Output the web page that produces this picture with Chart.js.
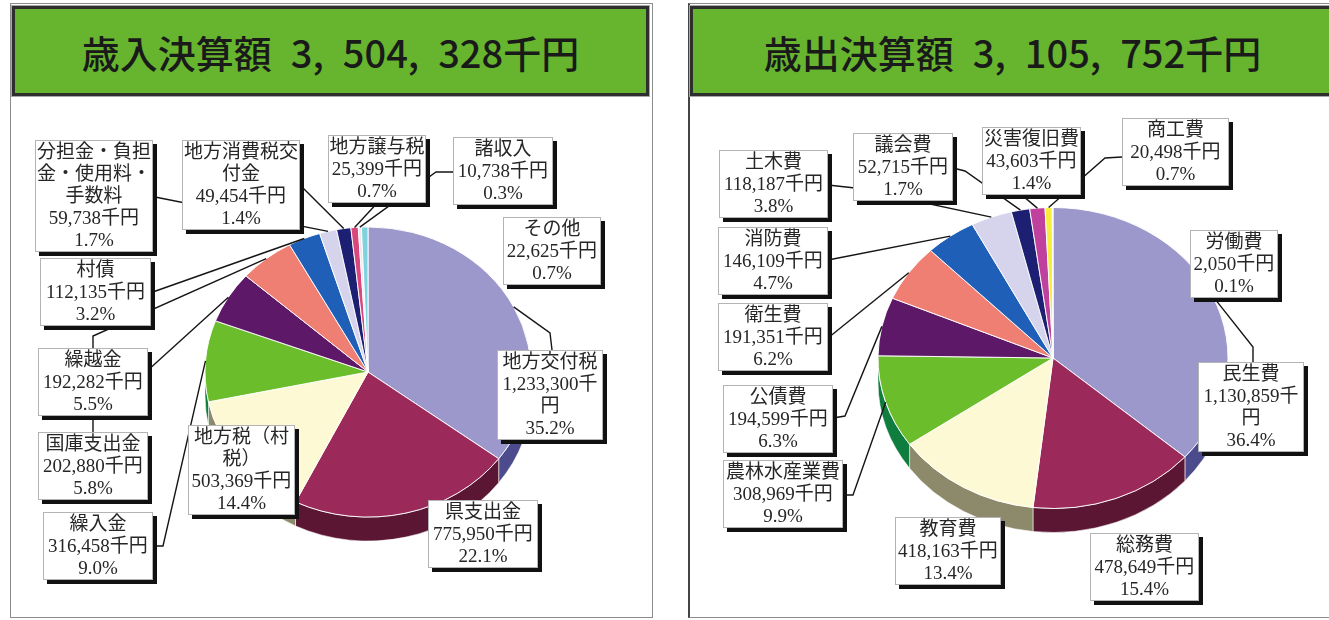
<!DOCTYPE html>
<html lang="ja">
<head>
<meta charset="utf-8">
<script src="https://cdn.jsdelivr.net/npm/chart.js@4"></script>
<style>
  body{margin:0;background:#fff;}
  #stage{position:relative;width:1329px;height:620px;overflow:hidden;background:#fff;
    font-family:"Liberation Serif","Noto Sans CJK JP",serif;}
  .panel{position:absolute;box-sizing:border-box;border:1px solid #8c8c8c;}
  .head{position:absolute;box-sizing:border-box;background:#67b52f;border:3px solid #2e2e2e;
    box-shadow:0 0 0 1px #a8a8a8;display:flex;align-items:center;justify-content:center;
    font-family:"Noto Sans CJK JP",sans-serif;font-size:38px;font-weight:500;color:#1a1a1a;white-space:pre;}
  canvas{position:absolute;}
  .lbl{position:absolute;box-sizing:border-box;background:#fff;border:1px solid #b4b4b4;
    box-shadow:4px 4px 0 #111;text-align:center;font-size:19px;line-height:22px;color:#262626;
    padding:0;line-break:strict;}
</style>
</head>
<body>
<div id="stage"></div>
<script>
// 歳入 (revenue)
const revenueCats = ['地方交付税','県支出金','地方税（村税）','繰入金','国庫支出金','繰越金','村債',
  '分担金・負担金・使用料・手数料','地方消費税交付金','地方譲与税','諸収入','その他'];
const revenueVals = [1233300,775950,503369,316458,202880,192282,112135,59738,49454,25399,10738,22625];
const revenuePct  = [35.2,22.1,14.4,9.0,5.8,5.5,3.2,1.7,1.4,0.7,0.3,0.7];

// 歳出 (expenditure)
const expenseCats = ['民生費','総務費','教育費','農林水産業費','公債費','衛生費','消防費','土木費',
  '議会費','災害復旧費','商工費','労働費'];
const expenseVals = [1130859,478649,418163,308969,194599,191351,146109,118187,52715,43603,20498,2050];
const expensePct  = [36.4,15.4,13.4,9.9,6.3,6.2,4.7,3.8,1.7,1.4,0.7,0.1];

// slice colours (top face) and side-wall colours
const revColors = ['#9c98cc','#9b2a5b','#fdf9d4','#6cbd2b','#5e1868','#f07f73','#1f5fb8','#d5d4ec',
  '#1c1f72','#d8487c','#f3e4ee','#80d3dd'];
const expColors = ['#9c98cc','#9b2a5b','#fdf9d4','#6cbd2b','#5e1868','#f07f73','#1f5fb8','#d5d4ec',
  '#1c1f72','#c0409e','#f5ee3a','#ffffff'];
const wallColors = ['#4b4b8e','#5b1634','#8d8a6b','#0f7d3d','#2e0a33','#7a3e38','#0f2f5c','#6a6a76',
  '#0e0f39','#602440','#7a7720','#888888'];

const fmt = v => v.toLocaleString('en-US');
const stage = document.getElementById('stage');

// pie 3D look: side wall + vertical squash
const pie3d = {
  id:'pie3d',
  beforeDatasetsDraw(chart, args, o){
    const ctx = chart.ctx;
    const arcs = chart.getDatasetMeta(0).data;
    arcs.forEach((arc,i)=>{
      const {x,y,startAngle,endAngle,outerRadius:r} = arc;
      const a0 = Math.max(startAngle,0), a1 = Math.min(endAngle,Math.PI);
      if(a1<=a0) return;
      ctx.beginPath();
      ctx.ellipse(x,y,r,r*o.ky,0,a0,a1);
      ctx.ellipse(x,y+o.depth,r,r*o.ky,0,a1,a0,true);
      ctx.closePath();
      ctx.fillStyle = wallColors[i];
      ctx.fill();
      ctx.strokeStyle = 'rgba(255,255,255,0.7)';
      ctx.lineWidth = 0.8;
      ctx.stroke();
    });
    const c = arcs[0];
    ctx.save();
    ctx.translate(c.x,c.y); ctx.scale(1,o.ky); ctx.translate(-c.x,-c.y);
  },
  afterDatasetsDraw(chart, args, o){
    const ctx = chart.ctx;
    ctx.restore();
    const arcs = chart.getDatasetMeta(0).data;
    ctx.strokeStyle = '#151515';
    ctx.lineWidth = 1.4;
    o.labels.forEach((lb,i)=>{
      if(!lb.path) return;
      const arc = arcs[i];
      const mid = (arc.startAngle+arc.endAngle)/2;
      const ex = arc.x + arc.outerRadius*Math.cos(mid);
      const ey = arc.y + arc.outerRadius*o.ky*Math.sin(mid);
      ctx.beginPath();
      lb.path.forEach((p,k)=>{
        const px = p[0]-o.ox, py = p[1]-o.oy;
        k ? ctx.lineTo(px,py) : ctx.moveTo(px,py);
      });
      ctx.lineTo(ex,ey);
      ctx.stroke();
    });
  }
};

function buildPanel(cfg){
  const p = document.createElement('div');
  p.className = 'panel';
  Object.assign(p.style,{left:cfg.panel[0]+'px',top:cfg.panel[1]+'px',width:cfg.panel[2]+'px',height:cfg.panel[3]+'px'});
  if(cfg.panelLeft) p.style.borderLeft = cfg.panelLeft;
  stage.appendChild(p);

  const h = document.createElement('div');
  h.className = 'head';
  Object.assign(h.style,{left:cfg.head[0]+'px',top:cfg.head[1]+'px',width:cfg.head[2]+'px',height:cfg.head[3]+'px'});
  const total = cfg.vals.reduce((a,b)=>a+b,0);
  h.textContent = cfg.title + '\u2002' + fmt(total).replace(/,/g,',\u2002') + '千円';
  stage.appendChild(h);

  const cv = document.createElement('canvas');
  cv.width = cfg.canvas[2]; cv.height = cfg.canvas[3];
  Object.assign(cv.style,{left:cfg.canvas[0]+'px',top:cfg.canvas[1]+'px'});
  stage.appendChild(cv);

  new Chart(cv,{
    type:'pie',
    data:{labels:cfg.cats,datasets:[{data:cfg.vals,backgroundColor:cfg.colors,borderColor:'#ffffff',borderWidth:1}]},
    options:{
      responsive:false,animation:false,devicePixelRatio:1,events:[],
      layout:{padding:cfg.pad},
      plugins:{legend:{display:false},tooltip:{enabled:false},
        pie3d:{ky:cfg.ky,depth:cfg.depth,labels:cfg.labels,ox:cfg.canvas[0],oy:cfg.canvas[1]}}
    },
    plugins:[pie3d]
  });

  cfg.labels.forEach((lb,i)=>{
    const d = document.createElement('div');
    d.className = 'lbl';
    Object.assign(d.style,{left:lb.box[0]+'px',top:lb.box[1]+'px',width:lb.box[2]+'px'});
    d.innerHTML = cfg.cats[i] + '<br>' + fmt(cfg.vals[i]) + '千円<br>' + cfg.pct[i].toFixed(1) + '%';
    stage.appendChild(d);
  });
}

buildPanel({
  title:'歳入決算額', cats:revenueCats, vals:revenueVals, pct:revenuePct, colors:revColors,
  panel:[10,3,643,615], head:[12,6,637,90],
  canvas:[12,97,638,520], pad:{left:192.5,top:111.5,right:118.5,bottom:81.5},
  ky:0.89, depth:24,
  labels:[
    {box:[497,350,106], path:[[552,350],[550,333]]},
    {box:[428,500,110]},
    {box:[188,425,107]},
    {box:[43,512,110], path:[[153,546],[163,546]]},
    {box:[38,432,110], path:[[93,432],[93,420]]},
    {box:[38,348,110], path:[[93,348],[93,336]]},
    {box:[40,258,111], path:[[150,293]]},
    {box:[35,140,118], path:[[150,196]]},
    {box:[182,140,118], path:[[298,183]]},
    {box:[328,135,98], path:[[380,200]]},
    {box:[453,137,100], path:[[454,172],[436,172]]},
    {box:[503,217,98]}
  ]
});

buildPanel({
  title:'歳出決算額', cats:expenseCats, vals:expenseVals, pct:expensePct, colors:expColors,
  panel:[688,3,660,615], panelLeft:'2px solid #444', head:[690,6,645,90],
  canvas:[690,97,639,520], pad:{left:187.5,top:85.5,right:100.5,bottom:83.5},
  ky:0.86, depth:24,
  labels:[
    {box:[1198,362,106], path:[[1253,362],[1253,347]]},
    {box:[1090,533,109]},
    {box:[895,517,106]},
    {box:[723,460,120], path:[[843,495],[853,495]]},
    {box:[723,385,110], path:[[833,418],[845,416]]},
    {box:[718,303,110], path:[[828,338]]},
    {box:[718,227,110], path:[[828,260]]},
    {box:[719,150,109], path:[[828,185],[855,188]]},
    {box:[853,133,100], path:[[953,168],[965,171]]},
    {box:[982,127,99], path:[[1010,185]]},
    {box:[1122,118,107], path:[[1122,157],[1105,158]]},
    {box:[1190,230,88]}
  ]
});
</script>
</body>
</html>
